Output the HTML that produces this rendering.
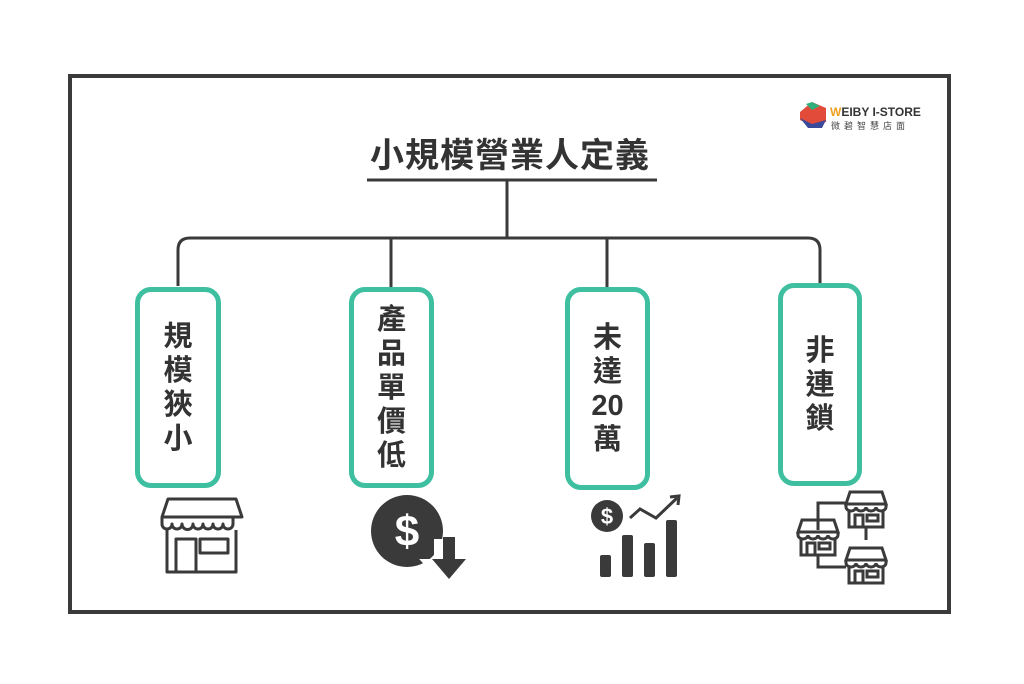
<!DOCTYPE html>
<html><head><meta charset="utf-8"><style>
body{margin:0;width:1024px;height:684px;background:#fff;position:relative;overflow:hidden;font-family:"Liberation Sans","Noto Sans CJK TC",sans-serif;}
.frame{position:absolute;left:68px;top:74px;width:875px;height:532px;border:4px solid #3a3a3a;}
.box{position:absolute;border:5px solid #3dbfa0;border-radius:16px;box-sizing:border-box;display:flex;flex-direction:column;align-items:center;justify-content:center;font-size:29px;font-weight:bold;color:#333;line-height:34px;}
.title{position:absolute;left:340px;width:340px;top:128px;text-align:center;font-size:34px;font-weight:bold;color:#333;letter-spacing:1px;}
</style></head><body>
<div class="frame"></div>
<div class="title">小規模營業人定義</div>
<svg width="1024" height="684" style="position:absolute;left:0;top:0">
<g stroke="#3a3a3a" stroke-width="3" fill="none">
<line x1="367" y1="180" x2="657" y2="180"/>
<line x1="507" y1="180" x2="507" y2="238"/>
<path d="M178 286 V250 Q178 238 190 238 H808 Q820 238 820 250 V284"/>
<line x1="391" y1="238" x2="391" y2="287"/>
<line x1="607" y1="238" x2="607" y2="287"/>
</g>
<!-- store icon -->
<g stroke="#3a3a3a" stroke-width="3" fill="none" stroke-linejoin="round">
<path d="M168 499 H236 L242 517 H162 Z"/>
<path d="M162 517 v7 a5 5 0 0 0 10 0 a5 5 0 0 0 10 0 a5 5 0 0 0 11 0 a5 5 0 0 0 10 0 a5 5 0 0 0 10 0 a5 5 0 0 0 10 0 a5 5 0 0 0 10 0 v-7"/>
<path d="M167 530 V572 H236 V530"/>
<path d="M176 572 V539 H196 V572"/>
<rect x="200" y="539" width="28" height="14"/>
</g>
<!-- dollar down -->
<circle cx="407" cy="531" r="36" fill="#3a3a3a"/>
<path d="M437 542 h22 v20 h11 l-22 24 l-22 -24 h11z" fill="#fff" stroke="#fff" stroke-width="6"/>
<path d="M443 537 h12 v22 h11 l-17 20 l-17 -20 h11z" fill="#3a3a3a"/>
<text x="407" y="546" font-size="44" font-weight="bold" fill="#fff" text-anchor="middle" font-family="Liberation Sans">$</text>
<!-- chart -->
<circle cx="607" cy="516" r="16" fill="#3a3a3a"/>
<text x="607" y="524" font-size="22" font-weight="bold" fill="#fff" text-anchor="middle" font-family="Liberation Sans">$</text>
<polyline points="630,518 640,509 656,518 677,498" stroke="#3a3a3a" stroke-width="3" fill="none"/>
<path d="M670 497 L679 496 L678 505" stroke="#3a3a3a" stroke-width="3" fill="none"/>
<g fill="#3a3a3a">
<rect x="600" y="555" width="11" height="22" rx="2"/>
<rect x="622" y="535" width="11" height="42" rx="2"/>
<rect x="644" y="543" width="11" height="34" rx="2"/>
<rect x="666" y="520" width="11" height="57" rx="2"/>
</g>
<!-- chain stores -->
<g stroke="#3a3a3a" stroke-width="3" fill="none">
<path d="M818 530 V503 H846"/>
<path d="M866 528 V540"/>
<path d="M818 555 V567 H846"/>
<g id="st"><path d="M850 492 h32 l4 12 h-40z"/><path d="M846 504 v3 a5 4 0 0 0 10 0 a5 4 0 0 0 10 0 a5 4 0 0 0 10 0 a5 4 0 0 0 10 0 v-3"/><path d="M849 511 v16 h34 v-16"/><path d="M855 527 v-12 h8 v12"/><rect x="867" y="515" width="11" height="6"/></g>
<use href="#st" transform="translate(-48,28)"/>
<use href="#st" transform="translate(0,56)"/>
</g>
<!-- logo -->
<path d="M800 112 L812 102 L826 108 L826 122 L812 126 L800 120Z" fill="#e24a3a"/>
<path d="M800 118 L812 124 L826 120 L822 128 L808 128Z" fill="#3a4a9a"/>
<path d="M806 104 L812 102 L820 106 L812 110Z" fill="#2fb07a"/>
<text x="830" y="116" font-size="12" font-weight="bold" fill="#333" font-family="Liberation Sans"><tspan fill="#f0a020">W</tspan>EIBY I-STORE</text>
<text x="831" y="129" font-size="9" fill="#444" letter-spacing="4">微碧智慧店面</text>
</svg>
<div class="box" style="left:135px;top:287px;width:86px;height:201px"><div>規</div><div>模</div><div>狹</div><div>小</div></div>
<div class="box" style="left:349px;top:287px;width:85px;height:201px"><div>產</div><div>品</div><div>單</div><div>價</div><div>低</div></div>
<div class="box" style="left:565px;top:287px;width:85px;height:203px"><div>未</div><div>達</div><div>20</div><div>萬</div></div>
<div class="box" style="left:778px;top:283px;width:84px;height:203px"><div>非</div><div>連</div><div>鎖</div></div>
</body></html>
